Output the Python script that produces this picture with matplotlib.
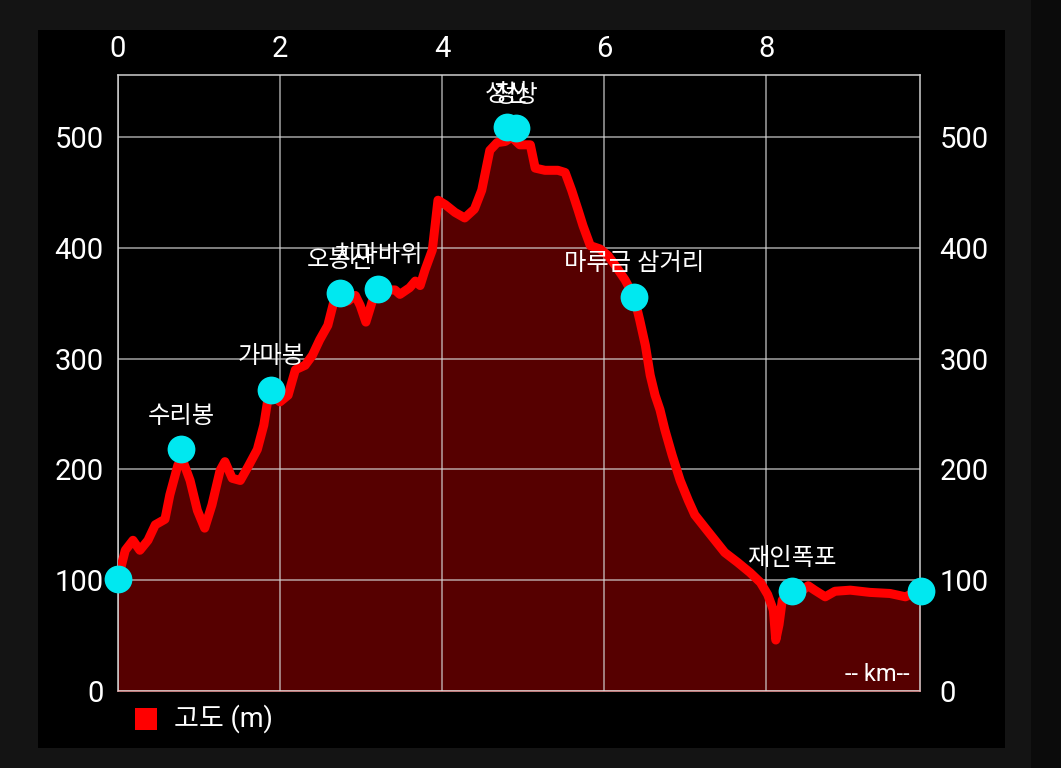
import numpy as np
import matplotlib.pyplot as plt
from matplotlib.patches import Rectangle

plt.rcParams['font.family'] = ['Roboto', 'Noto Sans CJK KR', 'DejaVu Sans']

# elevation profile (km, m)
dist = [0.0, 0.09, 0.185, 0.27, 0.37, 0.46, 0.58, 0.64, 0.74, 0.80, 0.89, 0.98, 1.07,
        1.16, 1.26, 1.32, 1.41, 1.51, 1.61, 1.72, 1.80, 1.85, 1.94, 2.0, 2.10, 2.19,
        2.31, 2.40, 2.49, 2.59, 2.67, 2.74, 2.84, 2.93, 2.99, 3.06, 3.14, 3.23, 3.42,
        3.48, 3.60, 3.67, 3.73, 3.79, 3.88, 3.95, 4.04, 4.16, 4.28, 4.40, 4.49, 4.59,
        4.68, 4.78, 4.86, 4.96, 5.09, 5.15, 5.27, 5.43, 5.52, 5.60, 5.68, 5.74, 5.83,
        5.95, 6.05, 6.14, 6.26, 6.37, 6.44, 6.51, 6.57, 6.63, 6.69, 6.75, 6.84, 6.94,
        7.04, 7.12, 7.25, 7.37, 7.49, 7.65, 7.80, 7.93, 8.02, 8.09, 8.12, 8.16, 8.20,
        8.30, 8.42, 8.52, 8.60, 8.73, 8.85, 9.04, 9.28, 9.53, 9.72, 9.84, 9.91]
elev = [101, 127, 136, 127, 136, 150, 155, 177, 204, 208, 190, 163, 147,
        168, 199, 207, 192, 190, 203, 218, 240, 263, 265, 261, 267, 290,
        294, 303, 317, 330, 353, 357, 352, 357, 348, 333, 352, 362, 362,
        358, 364, 370, 366, 380, 398, 443, 439, 432, 427, 435, 452, 488,
        495, 496, 500, 493, 493, 472, 470, 470, 468, 452, 434, 420, 402,
        399, 393, 384, 371, 356, 335, 312, 285, 267, 254, 236, 213, 190,
        172, 159, 147, 136, 125, 116, 107, 98, 87, 73, 46, 60, 82,
        91, 89, 95, 91, 85, 90, 91, 89, 88, 85, 89, 90]

# waypoints
wp_x = [0.0, 0.78, 1.89, 2.74, 3.21, 4.80, 4.91, 6.37, 8.32, 9.91]
wp_y = [101, 218, 272, 359, 363, 509, 508, 356, 90, 90]
wp_names = ['', '수리봉', '가마봉', '오봉산', '치마바위', '성산', '정상', '마루금 삼거리', '재인폭포', '']

x_ticks = [0, 2, 4, 6, 8]
y_ticks = [0, 100, 200, 300, 400, 500]

fig = plt.figure(figsize=(10.61, 7.68), dpi=100)
fig.patch.set_facecolor('#141414')
fig.patches.append(Rectangle((0.0358, 0.026), 0.9114, 0.935, transform=fig.transFigure,
                             facecolor='black', edgecolor='none', zorder=-2))
fig.patches.append(Rectangle((0.972, 0.0), 0.028, 1.0, transform=fig.transFigure,
                             facecolor='#0b0b0b', edgecolor='none', zorder=-2))

ax = fig.add_axes([0.1112, 0.1003, 0.7559, 0.802])
ax.set_zorder(1)
ax.set_facecolor('black')
ax.set_xlim(0, 9.9)
ax.set_ylim(0, 556)

ax.fill_between(dist, elev, 0, color='#560000', zorder=1)
ax.set_xticks(x_ticks)
ax.set_yticks(y_ticks)
ax.grid(True, color='#d8d8d8', alpha=0.75, linewidth=1.1, zorder=2)
ax.set_axisbelow(False)
ax.plot(dist, elev, color='#ff0000', linewidth=6.5, solid_joinstyle='round', zorder=3)
ax.scatter(wp_x, wp_y, s=20 ** 2, color='#00e8f0', zorder=4, clip_on=False, linewidths=0)

for x, y, name in zip(wp_x, wp_y, wp_names):
    if name:
        ax.annotate(name, (x, y), xytext=(0, 33), textcoords='offset pixels',
                    ha='center', va='center', color='white', fontsize=17.5, zorder=5)

for s in ax.spines.values():
    s.set_color('#cfcfcf')
    s.set_linewidth(1.1)
ax.spines['bottom'].set_color('#e0a0a0')

ax.tick_params(axis='x', length=0, pad=9, labeltop=True, labelbottom=False,
               labelsize=21, labelcolor='white')
ax.tick_params(axis='y', length=0, pad=10.5, labelsize=21, labelcolor='white')

# right-hand labels
ax2 = ax.twinx()
ax2.set_ylim(ax.get_ylim())
ax2.set_yticks(y_ticks)
ax2.tick_params(axis='y', length=0, pad=14, labelsize=21, labelcolor='white')
for s in ax2.spines.values():
    s.set_visible(False)

ax.text(0.987, 0.008, '-- km--', transform=ax.transAxes, ha='right', va='bottom',
        color='white', fontsize=17, zorder=5)

# legend
fig.patches.append(Rectangle((135 / 1061, 1 - 730 / 768), 22 / 1061, 22 / 768,
                             transform=fig.transFigure, facecolor='#ff0000',
                             edgecolor='none', zorder=3))
fig.text(174 / 1061, 1 - 719 / 768, '고도 (m)', color='white', fontsize=19.5,
         ha='left', va='center')

fig.savefig('out.png', dpi=100, facecolor=fig.get_facecolor())
